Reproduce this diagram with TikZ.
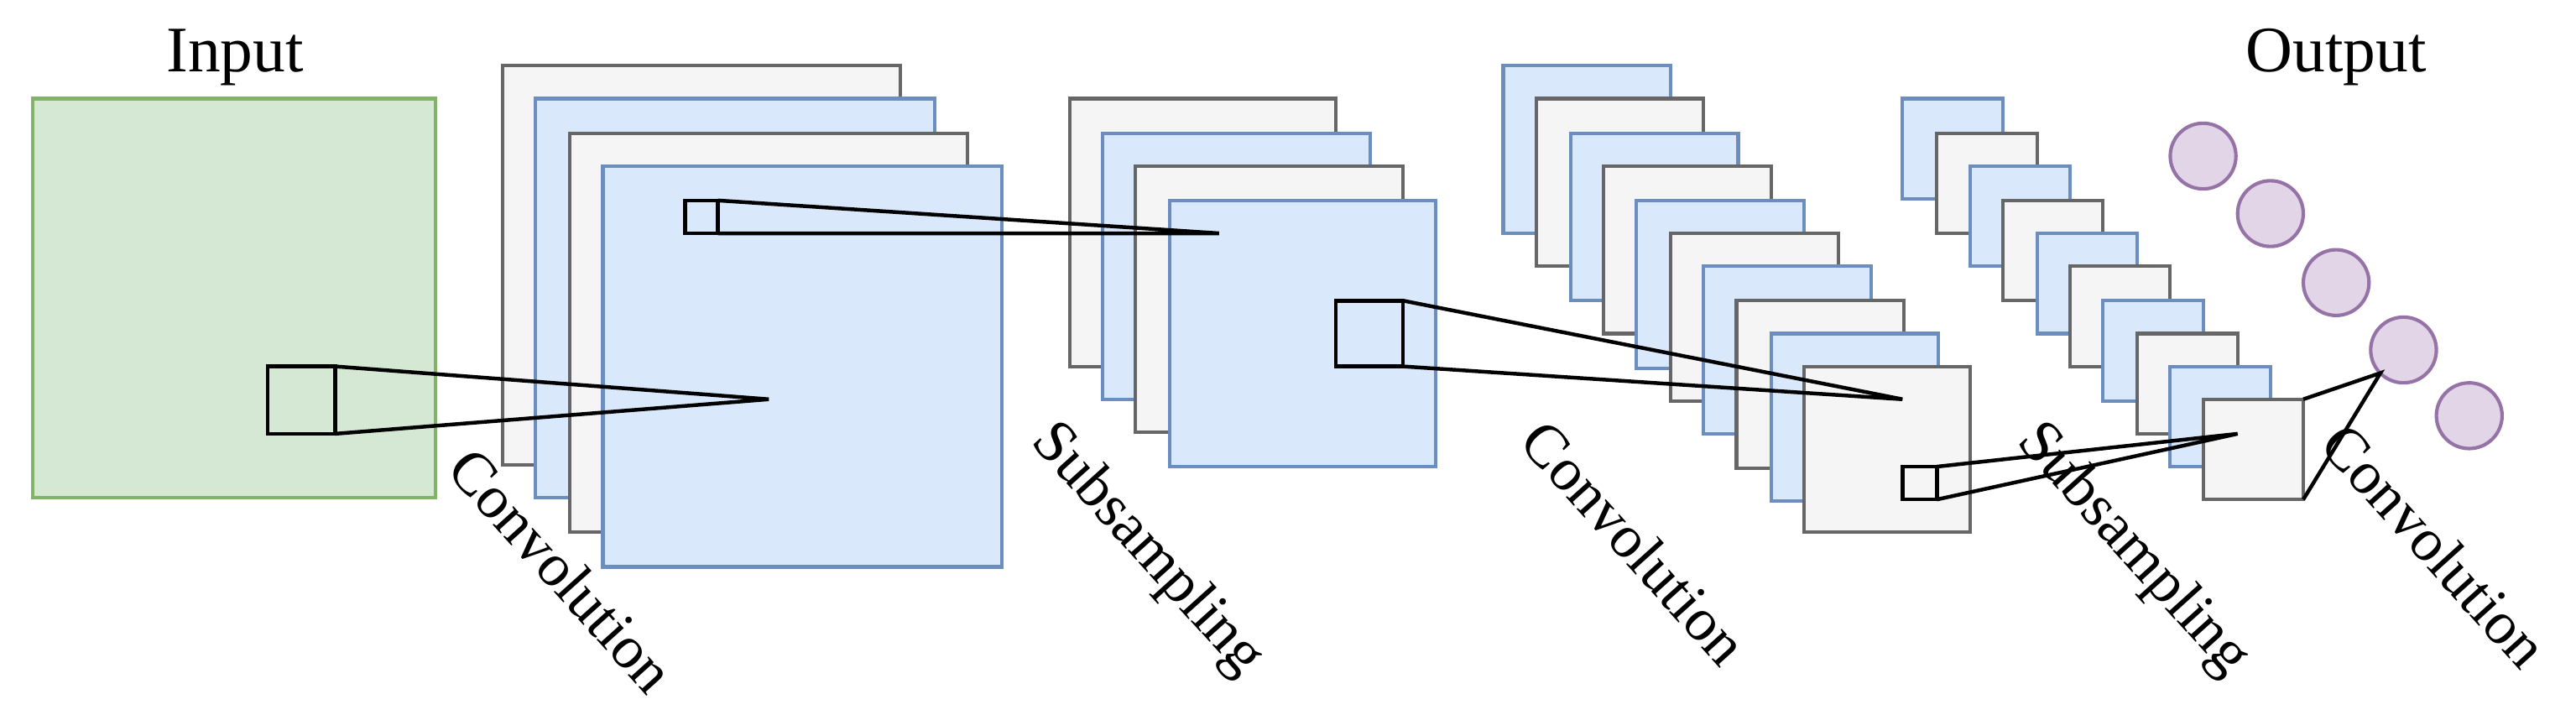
\documentclass[tikz,border=0pt]{standalone}
\usepackage{fontspec}
\setmainfont{Liberation Serif}
\begin{document}
\definecolor{gf}{HTML}{D5E8D4}\definecolor{gd}{HTML}{82B366}
\definecolor{bf}{HTML}{DAE8FC}\definecolor{bd}{HTML}{6C8EBF}
\definecolor{af}{HTML}{F5F5F5}\definecolor{ad}{HTML}{666666}
\definecolor{pf}{HTML}{E1D5E7}\definecolor{pd}{HTML}{9673A6}
\begin{tikzpicture}[x=0.02cm,y=-0.02cm,
  gr/.style={fill=af,draw=ad,line width=1.2pt},
  bl/.style={fill=bf,draw=bd,line width=1.2pt},
  gn/.style={fill=gf,draw=gd,line width=1.2pt},
  ci/.style={circle,fill=pf,draw=pd,line width=1.2pt,minimum size=0.8cm,inner sep=0pt},
  sq/.style={draw=black,line width=1.3pt},
  ln/.style={draw=black,line width=1.3pt},
  lab/.style={font=\fontsize{21}{23}\selectfont,rotate=-48},
  ttl/.style={font=\fontsize{22.5}{25}\selectfont}]
\useasboundingbox (0,0) rectangle (1568,435);
\node[ttl] (tin) at (143,35) {Input};
\node[ttl] (tout) at (1422,35) {Output};
\draw[gn] (20,60) rectangle (265,303);
% conv1
\draw[gr] (306,40) rectangle (548,283);
\draw[bl] (326,60) rectangle (569,303);
\draw[gr] (347,81) rectangle (589,324);
\draw[bl] (367,101) rectangle (610,345);
% sub1
\draw[gr] (651,60) rectangle (813,223);
\draw[bl] (671,81) rectangle (834,243);
\draw[gr] (691,101) rectangle (854,263);
\draw[bl] (712,122) rectangle (874,284);
% conv2
\foreach \x/\y/\s in {915/40/bl,935/60/gr,956/81/bl,976/101/gr,996/122/bl,1017/142/gr,1037/162/bl,1057/183/gr,1078/203/bl}
  \draw[\s] (\x,\y) rectangle ++(102,102);
\draw[gr] (1098,223) rectangle (1199,324);
% sub2
\foreach \x/\y/\s in {1158/60/bl,1179/81/gr,1199/101/bl,1219/122/gr,1240/142/bl,1260/162/gr,1280/183/bl,1301/203/gr,1321/223/bl}
  \draw[\s] (\x,\y) rectangle ++(61,61);
\draw[gr] (1341,243) rectangle (1402,304);
% output circles
\node[ci] (c1) at (1341,95) {};
\node[ci] (c2) at (1382,130) {};
\node[ci] (c3) at (1422,172) {};
\node[ci] (c4) at (1463,213) {};
\node[ci] (c5) at (1503,253) {};
% kernels
\draw[sq] (163,223) rectangle (204,264);
\coordinate (k1a) at (204,223); \coordinate (k1b) at (204,264); \coordinate (t1) at (468,243);
\draw[ln] (k1a) -- (t1) -- (k1b);
\draw[sq] (417,122) rectangle (437,142);
\coordinate (k2a) at (437,122); \coordinate (k2b) at (437,142); \coordinate (t2) at (742,142);
\draw[ln] (k2a) -- (t2) -- (k2b);
\draw[sq] (813,183) rectangle (854,223);
\coordinate (k3a) at (854,183); \coordinate (k3b) at (854,223); \coordinate (t3) at (1158,243);
\draw[ln] (k3a) -- (t3) -- (k3b);
\draw[sq] (1158,284) rectangle (1179,304);
\coordinate (k4a) at (1179,284); \coordinate (k4b) at (1179,304); \coordinate (t4) at (1362,264);
\draw[ln] (k4a) -- (t4) -- (k4b);
\coordinate (k5a) at (1402,243); \coordinate (k5b) at (1402,304); \coordinate (t5) at (1449,227);
\draw[ln] (k5a) -- (t5) -- (k5b);
% labels
\node[lab] (l1) at (342,347) {Convolution};
\node[lab] (l2) at (698,335) {Subsampling};
\node[lab] (l3) at (995,330) {Convolution};
\node[lab] (l4) at (1298,335) {Subsampling};
\node[lab] (l5) at (1482,332) {Convolution};
\end{tikzpicture}
\end{document}
